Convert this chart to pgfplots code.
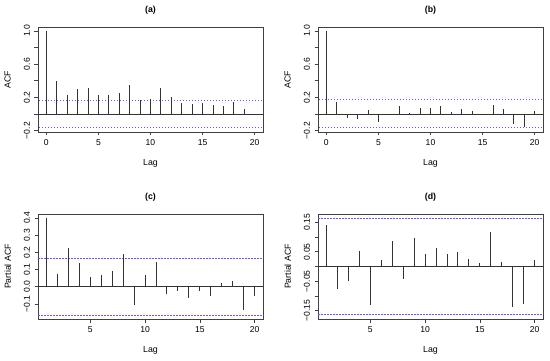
\documentclass[border=0pt]{standalone}
\usepackage{pgfplots}
\pgfplotsset{compat=1.18}
\usepackage{fontspec}
\setmainfont{Liberation Sans}
\definecolor{ciblue}{RGB}{105,85,250}
\pgfplotsset{
  acfbase/.style={
    scale only axis,
    width=225bp, height=105bp,
    axis line style={line width=0.8bp, black!75},
    tick style={line width=0.6bp, black!75},
    tick align=outside,
    major tick length=3.5bp,
    xtick pos=bottom, ytick pos=left,
    /pgf/number format/assume math mode=true,
    tick label style={font=\fontsize{8.6}{9}\selectfont},
    label style={font=\fontsize{8.8}{9}\selectfont},
    title style={font=\bfseries\fontsize{8.8}{9}\selectfont, at={(0.5,1)}, anchor=base, yshift=9bp},
    yticklabel style={rotate=90, anchor=south},
    yticklabel shift=1bp,
    xticklabel shift=0.5bp,
    xlabel style={at={(axis description cs:0.5,-0.295)}, anchor=center},
    ylabel style={at={(axis description cs:-0.135,0.5)}, anchor=center, rotate=0},
    xlabel={Lag},
    clip=true,
  },
  stem/.style={ycomb, black!80, line width=0.9bp, mark=none},
  zero/.style={black!80, line width=0.8bp},
  ci/.style={ciblue, dash pattern=on 1.5bp off 1.5bp, line width=0.8bp},
}
\begin{document}
\begin{tikzpicture}
\useasboundingbox (0,0) rectangle (550bp,361bp);

% (a)
\begin{axis}[acfbase, at={(38bp,229bp)}, anchor=south west,
  xmin=-0.8, xmax=20.8, ymin=-0.217, ymax=1.047,
  xtick={0,5,10,15,20},
  ytick={-0.2,0,0.2,0.4,0.6,0.8,1.0},
  yticklabels={−0.2,,0.2,,0.6,,1.0},
  ylabel={ACF},
  title={(a)},
]
\addplot[zero] coordinates {(-1,0) (21,0)};
\addplot[ci] coordinates {(-1,0.165) (21,0.165)};
\addplot[ci] coordinates {(-1,-0.165) (21,-0.165)};
\addplot[stem] coordinates {
(0,1.0) (1,0.40) (2,0.225) (3,0.30) (4,0.31) (5,0.234) (6,0.225) (7,0.258)
(8,0.343) (9,0.165) (10,0.186) (11,0.31) (12,0.205) (13,0.133) (14,0.117)
(15,0.133) (16,0.105) (17,0.093) (18,0.141) (19,0.065) (20,-0.01)};
\end{axis}

% (b)
\begin{axis}[acfbase, at={(318bp,229bp)}, anchor=south west,
  xmin=-0.8, xmax=20.8, ymin=-0.217, ymax=1.047,
  xtick={0,5,10,15,20},
  ytick={-0.2,0,0.2,0.4,0.6,0.8,1.0},
  yticklabels={−0.2,,0.2,,0.6,,1.0},
  ylabel={ACF},
  title={(b)},
]
\addplot[zero] coordinates {(-1,0) (21,0)};
\addplot[ci] coordinates {(-1,0.17) (21,0.17)};
\addplot[ci] coordinates {(-1,-0.165) (21,-0.165)};
\addplot[stem] coordinates {
(0,1.0) (1,0.145) (2,-0.048) (3,-0.06) (4,0.045) (5,-0.10) (6,-0.016) (7,0.093)
(8,0.01) (9,0.073) (10,0.077) (11,0.093) (12,0.024) (13,0.057) (14,0.033)
(15,0.003) (16,0.105) (17,0.057) (18,-0.12) (19,-0.16) (20,0.03)};
\end{axis}

% (c)
\begin{axis}[acfbase, at={(38bp,42bp)}, anchor=south west,
  xmin=0.24, xmax=20.76, ymin=-0.188, ymax=0.423,
  xtick={5,10,15,20},
  ytick={-0.1,0,0.1,0.2,0.3,0.4},
  yticklabels={−0.1,0.0,0.1,0.2,0.3,0.4},
  ylabel={Partial ACF},
  title={(c)},
]
\addplot[zero] coordinates {(0,0) (21,0)};
\addplot[ci] coordinates {(0,0.165) (21,0.165)};
\addplot[ci] coordinates {(0,-0.165) (21,-0.165)};
\addplot[stem] coordinates {
(1,0.40) (2,0.076) (3,0.224) (4,0.139) (5,0.057) (6,0.07) (7,0.092)
(8,0.19) (9,-0.106) (10,0.069) (11,0.141) (12,-0.045) (13,-0.024) (14,-0.067)
(15,-0.024) (16,-0.055) (17,0.02) (18,0.035) (19,-0.133) (20,-0.057)};
\end{axis}

% (d)
\begin{axis}[acfbase, at={(318bp,42bp)}, anchor=south west,
  xmin=0.24, xmax=20.76, ymin=-0.178, ymax=0.178,
  xtick={5,10,15,20},
  ytick={-0.15,-0.10,-0.05,0,0.05,0.10,0.15},
  yticklabels={−0.15,,−0.05,,0.05,,0.15},
  ylabel={Partial ACF},
  title={(d)},
]
\addplot[zero] coordinates {(0,0) (21,0)};
\addplot[ci] coordinates {(0,0.163) (21,0.163)};
\addplot[ci] coordinates {(0,-0.163) (21,-0.163)};
\addplot[stem] coordinates {
(1,0.141) (2,-0.076) (3,-0.05) (4,0.053) (5,-0.129) (6,0.021) (7,0.087)
(8,-0.044) (9,0.098) (10,0.043) (11,0.063) (12,0.041) (13,0.049) (14,0.026)
(15,0.013) (16,0.117) (17,0.015) (18,-0.137) (19,-0.128) (20,0.023)};
\end{axis}
\end{tikzpicture}
\end{document}
